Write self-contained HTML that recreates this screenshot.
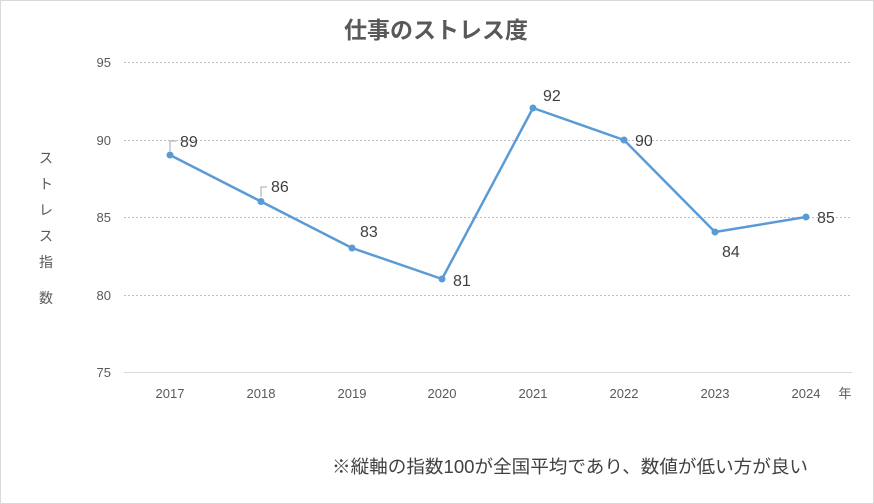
<!DOCTYPE html>
<html><head><meta charset="utf-8"><style>
body{margin:0;background:#fff}
svg{display:block}
text{font-family:"Liberation Sans","Noto Sans CJK JP",sans-serif}
</style></head><body>
<svg width="874" height="504" viewBox="0 0 874 504">
<rect x="0.5" y="0.5" width="873" height="503" fill="#fff" stroke="#d9d9d9"/>
<text x="436" y="38" text-anchor="middle" font-size="23" font-weight="bold" fill="#595959">仕事のストレス度</text>
<g stroke="#bfbfbf" stroke-dasharray="2,2" stroke-width="1">
<line x1="124" y1="62.5" x2="852" y2="62.5"/>
<line x1="124" y1="140.5" x2="852" y2="140.5"/>
<line x1="124" y1="217.5" x2="852" y2="217.5"/>
<line x1="124" y1="295.5" x2="852" y2="295.5"/>
</g>
<line x1="124" y1="372.5" x2="852" y2="372.5" stroke="#d9d9d9"/>
<g font-size="13" fill="#595959" text-anchor="end">
<text x="111" y="67">95</text><text x="111" y="145">90</text><text x="111" y="222">85</text><text x="111" y="300">80</text><text x="111" y="377">75</text>
</g>
<g font-size="13" fill="#595959" text-anchor="middle">
<text x="170" y="398">2017</text><text x="261" y="398">2018</text><text x="352" y="398">2019</text><text x="442" y="398">2020</text><text x="533" y="398">2021</text><text x="624" y="398">2022</text><text x="715" y="398">2023</text><text x="806" y="398">2024</text>
<text x="845" y="398">年</text>
</g>
<g font-size="14" fill="#595959" text-anchor="middle">
<text x="46" y="163">ス</text><text x="46" y="189">ト</text><text x="46" y="215">レ</text><text x="46" y="241">ス</text><text x="46" y="267">指</text><text x="46" y="303">数</text>
</g>
<polyline points="170,155 261,201.5 352,248 442,279 533,108 624,140 715,232 806,217" fill="none" stroke="#5b9bd5" stroke-width="2.5" stroke-linejoin="round"/>
<g fill="#5b9bd5">
<circle cx="170" cy="155" r="3.5"/><circle cx="261" cy="201.5" r="3.5"/><circle cx="352" cy="248" r="3.5"/><circle cx="442" cy="279" r="3.5"/><circle cx="533" cy="108" r="3.5"/><circle cx="624" cy="140" r="3.5"/><circle cx="715" cy="232" r="3.5"/><circle cx="806" cy="217" r="3.5"/>
</g>
<g stroke="#a6a6a6" fill="none"><polyline points="170,151 170,141 176,141"/><polyline points="261,197 261,187 267,187"/></g>
<g font-size="16" fill="#404040">
<text x="180" y="147">89</text><text x="271" y="192">86</text><text x="360" y="237">83</text><text x="453" y="286">81</text><text x="543" y="101">92</text><text x="635" y="146">90</text><text x="722" y="257">84</text><text x="817" y="223">85</text>
</g>
<text x="332" y="473" font-size="18" fill="#404040" textLength="476" lengthAdjust="spacingAndGlyphs">※縦軸の指数100が全国平均であり、数値が低い方が良い</text>
</svg>
</body></html>
